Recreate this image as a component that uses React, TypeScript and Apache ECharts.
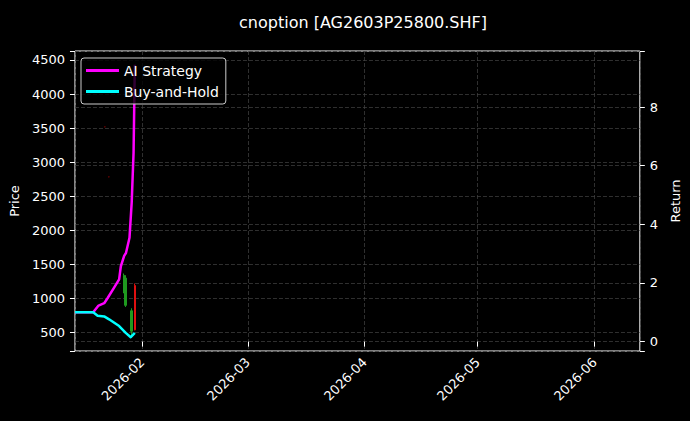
import React, { useEffect, useRef } from 'react';
import * as echarts from 'echarts';

const FONT = 'DejaVu Sans';
const TITLE = 'cnoption [AG2603P25800.SHF]';

// candles: [open, close, low, high] per date
const candleDates = ['2026-01-22 02:00', '2026-01-23 05:30', '2026-01-27 05:00', '2026-01-27 15:00', '2026-01-29 03:30', '2026-01-30 02:00'];
const candleOpen = [3520, 2786, 1340, 1300, 820, 540];
const candleClose = [3520, 2786, 1110, 900, 520, 1190];
const candleLow = [3510, 2776, 1077, 876, 450, 534];
const candleHigh = [3530, 2796, 1367, 1342, 857, 1220];
const candleDim = [true, true, false, false, false, false];

// cumulative returns
const aiDates = ['2026-01-14 04:00', '2026-01-19 00:00', '2026-01-20 10:00', '2026-01-21 22:00', '2026-01-22 19:00', '2026-01-24 13:00', '2026-01-25 21:00', '2026-01-26 08:00', '2026-01-27 05:00', '2026-01-27 17:00', '2026-01-28 15:00', '2026-01-29 05:00', '2026-01-29 17:00', '2026-01-30 01:00'];
const aiReturn = [1.0, 1.0, 1.23, 1.31, 1.48, 1.84, 2.12, 2.57, 2.92, 3.03, 3.54, 4.74, 6.45, 9.44];

const bhDates = ['2026-01-14 04:00', '2026-01-19 00:00', '2026-01-20 04:00', '2026-01-21 22:00', '2026-01-23 05:00', '2026-01-25 21:00', '2026-01-27 15:00', '2026-01-28 23:00', '2026-01-30 01:00'];
const bhReturn = [1.0, 1.0, 0.88, 0.86, 0.76, 0.53, 0.3, 0.15, 0.3];

const X_MIN = +new Date(2026, 0, 14, 4);
const X_MAX = +new Date(2026, 5, 13);
const DAY = 86400000;

const gridLine = { show: true, lineStyle: { color: '#444444', type: [4, 2], width: 0.7 } };
const tick = { show: true, length: 5, lineStyle: { color: '#ffffff', width: 1 } };

const App: React.FC = () => {
  const chartRef = useRef<HTMLDivElement>(null);

  useEffect(() => {
    document.body.style.margin = '0';
    document.body.style.background = '#000';
    if (!chartRef.current) return;
    const chart = echarts.init(chartRef.current, undefined, { renderer: 'svg' });

    const candleData = candleDates.map((d, i) => {
      const item: any = { value: [d, candleOpen[i], candleClose[i], candleLow[i], candleHigh[i]] };
      if (candleDim[i]) {
        item.itemStyle = { color: '#5a0000', color0: '#5a0000', borderColor: '#5a0000', borderColor0: '#5a0000' };
      }
      return item;
    });

    const option: echarts.EChartsOption = {
      animation: false,
      backgroundColor: '#000000',
      textStyle: { fontFamily: FONT },
      title: {
        text: TITLE,
        left: 358,
        top: 9,
        textAlign: 'center',
        textStyle: { color: '#ffffff', fontSize: 16, fontWeight: 'normal', fontFamily: FONT },
      },
      legend: {
        orient: 'vertical',
        left: 81,
        top: 58,
        padding: [5, 7, 5, 5],
        itemGap: 6,
        itemWidth: 33,
        itemHeight: 3,
        icon: 'rect',
        backgroundColor: 'rgba(0,0,0,0.8)',
        borderColor: '#cccccc',
        borderWidth: 1,
        borderRadius: 3,
        data: ['AI Strategy', 'Buy-and-Hold'],
        textStyle: { color: '#ffffff', fontSize: 14, fontFamily: FONT, lineHeight: 15 },
      },
      grid: {
        left: 74.5,
        right: 47.5,
        top: 51,
        bottom: 70,
        show: true,
        borderColor: '#ffffff',
        borderWidth: 1,
      },
      xAxis: {
        type: 'time',
        min: X_MIN,
        max: X_MAX,
        splitNumber: 5,
        minInterval: 28 * DAY,
        maxInterval: 31 * DAY,
        axisLine: { show: false },
        axisTick: tick,
        axisLabel: {
          color: '#ffffff',
          fontSize: 13,
          fontFamily: FONT,
          rotate: 45,
          margin: 9,
          formatter: '{yyyy}-{MM}',
        },
        splitLine: gridLine,
      },
      yAxis: [
        {
          type: 'value',
          position: 'left',
          min: 230,
          max: 4632,
          splitNumber: 9,
          name: 'Price',
          nameLocation: 'middle',
          nameRotate: 90,
          nameGap: 48,
          nameTextStyle: { color: '#ffffff', fontSize: 13, fontFamily: FONT },
          axisLine: { show: false },
          axisTick: tick,
          axisLabel: {
            color: '#ffffff',
            fontSize: 13,
            fontFamily: FONT,
            margin: 10,
            formatter: (v: number) => (v % 500 === 0 ? String(v) : ''),
          },
          splitLine: gridLine,
        },
        {
          type: 'value',
          position: 'right',
          min: -0.32,
          max: 9.91,
          splitNumber: 5,
          name: 'Return',
          nameLocation: 'middle',
          nameRotate: 90,
          nameGap: 20,
          nameTextStyle: { color: '#ffffff', fontSize: 13, fontFamily: FONT },
          axisLine: { show: false },
          axisTick: tick,
          axisLabel: {
            color: '#ffffff',
            fontSize: 13,
            fontFamily: FONT,
            margin: 10,
            formatter: (v: number) => (Math.abs(v % 2) < 1e-9 ? String(v) : ''),
          },
          splitLine: gridLine,
        },
      ],
      series: [
        {
          type: 'candlestick',
          name: 'Price',
          yAxisIndex: 0,
          barWidth: 2,
          itemStyle: {
            color: '#e01010',
            color0: '#1f9a1f',
            borderColor: '#e01010',
            borderColor0: '#1f9a1f',
            borderWidth: 1,
          },
          data: candleData,
          z: 1,
        },
        {
          type: 'line',
          name: 'AI Strategy',
          yAxisIndex: 1,
          showSymbol: false,
          data: aiDates.map((d, i) => [d, aiReturn[i]]),
          lineStyle: { color: '#ff00ff', width: 2.5, join: 'round' },
          itemStyle: { color: '#ff00ff' },
          z: 3,
        },
        {
          type: 'line',
          name: 'Buy-and-Hold',
          yAxisIndex: 1,
          showSymbol: false,
          data: bhDates.map((d, i) => [d, bhReturn[i]]),
          lineStyle: { color: '#00ffff', width: 2.5, join: 'round' },
          itemStyle: { color: '#00ffff' },
          z: 3,
        },
      ],
    };

    chart.setOption(option);
    return () => chart.dispose();
  }, []);

  return <div ref={chartRef} style={{ width: 690, height: 421 }} />;
};

export default App;
